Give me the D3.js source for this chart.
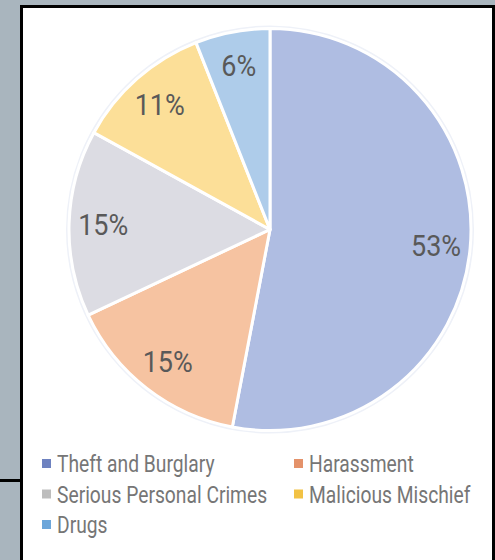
<!DOCTYPE html>
<html>
<head>
<meta charset="utf-8">
<script src="https://cdn.jsdelivr.net/npm/d3@7"></script>
<style>
  html, body { margin: 0; padding: 0; background: #A9B5BE; }
  svg { display: block; }
  text { font-family: "Liberation Sans Narrow", "Arial Narrow", Roboto, sans-serif; }
</style>
</head>
<body>
<svg id="chart" width="495" height="560"></svg>
<script>
const categories = ["Theft and Burglary", "Harassment", "Serious Personal Crimes", "Malicious Mischief", "Drugs"];
const values = [53, 15, 15, 11, 6];
const labels = ["53%", "15%", "15%", "11%", "6%"];
const sliceColors = ["#AFBDE2", "#F6C3A1", "#DCDCE3", "#FCDF98", "#AECCEA"];
const legendColors = ["#6E82C0", "#E4926A", "#BDBDBD", "#F2C244", "#6CA6DA"];

const svg = d3.select("#chart");

// background panel
svg.append("rect").attr("x", 0).attr("y", 0).attr("width", 495).attr("height", 560).attr("fill", "#A9B5BE");
svg.append("rect").attr("x", 21.5).attr("y", 6.5).attr("width", 472).attr("height", 560).attr("fill", "#FFFFFF")
  .attr("stroke", "#000").attr("stroke-width", 3);
svg.append("line").attr("x1", 0).attr("x2", 21).attr("y1", 480.5).attr("y2", 480.5)
  .attr("stroke", "#000").attr("stroke-width", 3);

const cx = 270, cy = 229.5, r = 201;
const data = categories.map((c, i) => ({ name: c, value: values[i], label: labels[i], fill: sliceColors[i] }));
const pie = d3.pie().sort(null).value(d => d.value).startAngle(0).endAngle(2 * Math.PI);
const arcs = pie(data);
const arc = d3.arc().innerRadius(0).outerRadius(r);
const labelArc = d3.arc().innerRadius(r * 0.83).outerRadius(r * 0.83);

const g = svg.append("g").attr("transform", `translate(${cx},${cy})`);
g.append("circle").attr("r", r + 2).attr("fill", "none").attr("stroke", "#EEF1F8").attr("stroke-width", 2);
g.selectAll("path.slice").data(arcs).enter().append("path")
  .attr("class", "slice")
  .attr("d", arc)
  .attr("fill", d => d.data.fill)
  .attr("stroke", "#FFFFFF")
  .attr("stroke-width", 3)
  .attr("stroke-linejoin", "round");

g.selectAll("text.lbl").data(arcs).enter().append("text")
  .attr("class", "lbl")
  .attr("transform", d => `translate(${labelArc.centroid(d)}) scale(0.9,1)`)
  .attr("text-anchor", "middle")
  .attr("dy", "0.36em")
  .attr("font-size", 30)
  .attr("fill", "#595959")
  .text(d => d.data.label);

// legend
const legend = svg.append("g");
const colX = [42, 294];
const rowY = [472, 502.5, 533];
categories.forEach((c, i) => {
  const col = i % 2, row = Math.floor(i / 2);
  const item = legend.append("g").attr("transform", `translate(${colX[col]},${rowY[row]})`);
  item.append("rect").attr("x", 0).attr("y", -13).attr("width", 9).attr("height", 9).attr("fill", legendColors[i]);
  item.append("text").attr("transform", "translate(15,0) scale(0.82,1)").attr("font-size", 23.5).attr("fill", "#767676").text(c);
});
</script>
</body>
</html>
